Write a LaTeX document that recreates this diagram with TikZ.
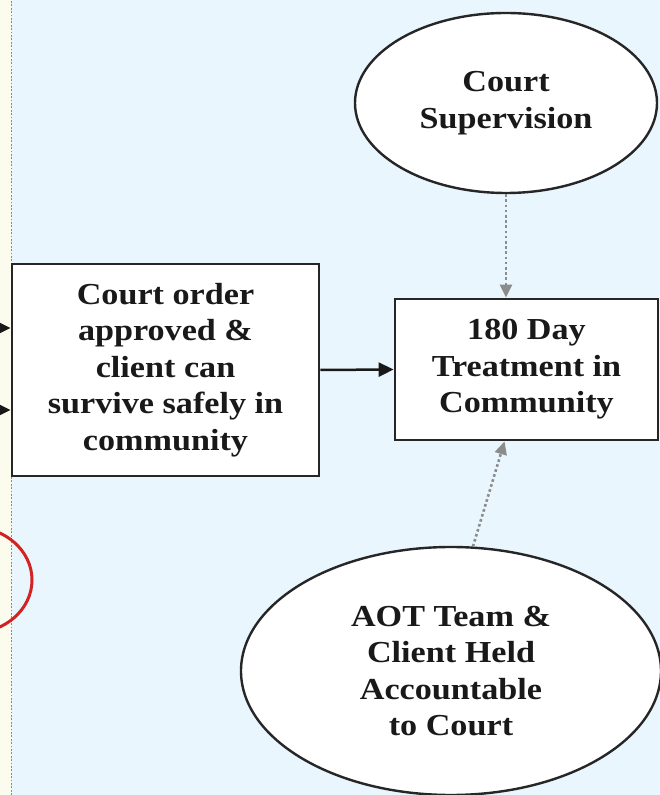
\documentclass[tikz,border=0pt]{standalone}
\usepackage{fontspec}
\setmainfont{Liberation Serif}[FakeStretch=1.12]
\usetikzlibrary{arrows.meta,shapes.geometric}
\definecolor{bgblue}{RGB}{233,246,253}
\definecolor{bgcream}{RGB}{252,252,238}
\definecolor{ringred}{RGB}{210,34,34}
\definecolor{linkgray}{RGB}{140,140,140}
\tikzset{
	txt/.style={align=center, text=black!90, font=\bfseries\fontsize{30.5}{36.5}\selectfont},
	box/.style={txt, draw=black!85, line width=2.8pt, fill=white, inner sep=0pt},
	oval/.style={txt, ellipse, draw=black!85, line width=2.4pt, fill=white, inner sep=0pt},
	flow/.style={-{Triangle[length=15pt,width=14pt]}, line width=2.5pt, black!90},
	link/.style={line width=2.6pt, linkgray, dash pattern=on 2.6pt off 2.6pt, -{Triangle[length=13pt,width=12pt]}}
}
\begin{document}
\begin{tikzpicture}[x=1pt, y=1pt]
	\useasboundingbox (0,0) rectangle (660,795);
	%background
	\fill[bgblue] (0,0) rectangle (660,795);
	\fill[bgcream] (0,0) rectangle (11,795);
	\draw[linkgray, line width=1.8pt, dash pattern=on 1.8pt off 1.6pt] (11.5,0) -- (11.5,795);
	
	%red ring on the left
	\draw[ringred, line width=3pt] (-28,215) ellipse [x radius=60, y radius=53];
	
	%nodes
	\node[box, minimum width=307, minimum height=212] (order) at (165.5,425)
		{Court order\\approved \&\\client can\\survive safely in\\community};
	\node[box, minimum width=263, minimum height=141] (treat) at (526.5,425.5)
		{180 Day\\Treatment in\\Community};
	\node[oval, minimum width=302, minimum height=180] (sup) at (506,692)
		{Court\\Supervision};
	\node[oval, minimum width=420, minimum height=248] (aot) at (451,124)
		{AOT Team \&\\Client Held\\Accountable\\to Court};
	
	%incoming arrows
	\coordinate (in1) at (0,467);
	\coordinate (in2) at (0,385);
	\draw[flow] (in1) -- (in1 -| order.west);
	\draw[flow] (in2) -- (in2 -| order.west);
	
	\draw[flow] (order.east) -- (treat.west);
	\draw[link] (sup.south) -- (sup.south |- treat.north);
	\draw[link] (aot.80) -- (treat.253);
\end{tikzpicture}
\end{document}
